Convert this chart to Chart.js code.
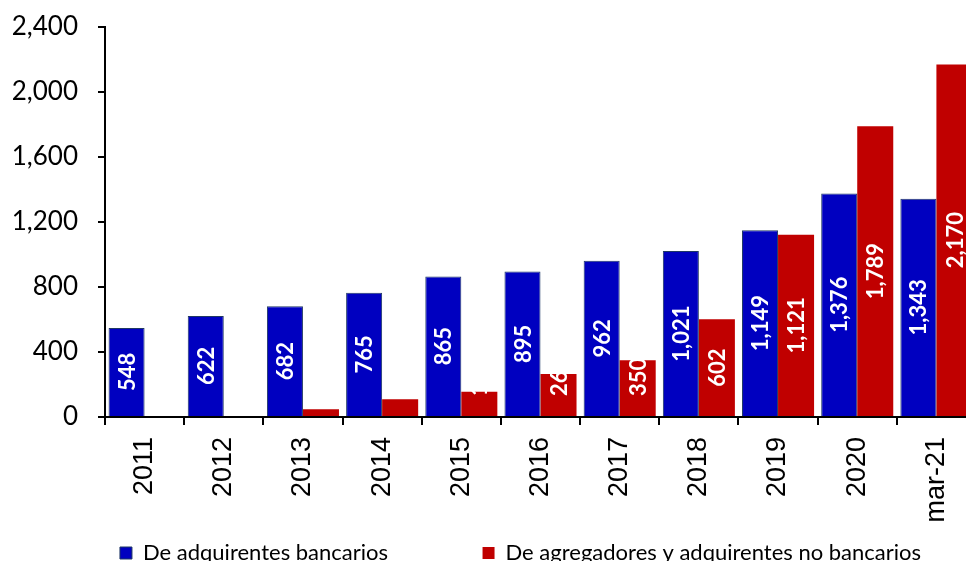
<!DOCTYPE html>
<html>
<head>
<meta charset="utf-8">
<script src="https://cdn.jsdelivr.net/npm/chart.js@4/dist/chart.umd.min.js"></script>
<style>
  html, body { margin: 0; padding: 0; background: #fff; overflow: hidden; }
  #wrap { width: 1041px; height: 561px; }
</style>
</head>
<body>
<div id="wrap"><canvas id="chart"></canvas></div>
<script>
// --- Data ---
const years = ['2011', '2012', '2013', '2014', '2015', '2016', '2017', '2018', '2019', '2020', 'mar-21'];
const bancarios = [548, 622, 682, 765, 865, 895, 962, 1021, 1149, 1376, 1343];
const noBancarios = [0, 0, 48, 109, 155, 264, 350, 602, 1121, 1789, 2170];
const yTicks = [0, 400, 800, 1200, 1600, 2000, 2400];

const fmt = v => v.toLocaleString('en-US');
const legendFont = { family: 'Lato', size: 22 };

// White rotated value labels inside the bars
const barLabels = {
    id: 'barLabels',
    afterDatasetsDraw(chart) {
        const ctx = chart.ctx;
        const area = chart.chartArea;
        ctx.save();
        ctx.beginPath();
        ctx.rect(area.left, area.top, area.right - area.left, area.bottom - area.top);
        ctx.clip();
        ctx.font = 'bold 22px Lato';
        ctx.fillStyle = '#ffffff';
        ctx.textAlign = 'center';
        ctx.textBaseline = 'middle';
        chart.data.datasets.forEach((ds, i) => {
            const meta = chart.getDatasetMeta(i);
            meta.data.forEach((bar, j) => {
                const v = ds.data[j];
                if (!v) return;
                const txt = fmt(v);
                const w = ctx.measureText(txt).width;
                // keep label clear of the axis like the original
                const cy = Math.min((bar.y + bar.base) / 2, bar.base - 20 - w / 2);
                ctx.save();
                ctx.translate(bar.x, cy);
                ctx.rotate(-Math.PI / 2);
                ctx.fillText(txt, 0, 1);
                ctx.restore();
            });
        });
        ctx.restore();
    }
};

new Chart(document.getElementById('chart'), {
    type: 'bar',
    data: {
        labels: years,
        datasets: [
            {
                label: 'De adquirentes bancarios',
                data: bancarios,
                backgroundColor: '#0000C0',
                borderColor: '#1F3864',
                borderWidth: 1,
                borderSkipped: 'bottom',
                categoryPercentage: 0.91,
                barPercentage: 1
            },
            {
                label: 'De agregadores y adquirentes no bancarios',
                data: noBancarios,
                backgroundColor: '#C00000',
                borderColor: '#C00000',
                borderWidth: 0,
                categoryPercentage: 0.91,
                barPercentage: 1
            }
        ]
    },
    options: {
        responsive: true,
        maintainAspectRatio: false,
        animation: false,
        layout: { padding: { top: 27, right: 0, left: 0, bottom: -13 } },
        plugins: {
            tooltip: { enabled: false },
            legend: {
                position: 'bottom',
                labels: {
                    boxWidth: 12,
                    boxHeight: 12,
                    padding: 10,
                    color: '#000',
                    font: legendFont,
                    generateLabels(chart) {
                        const items = Chart.defaults.plugins.legend.labels.generateLabels(chart);
                        // widen the first entry so the second one sits where it does in the original
                        const ctx = chart.ctx;
                        ctx.save();
                        ctx.font = legendFont.size + 'px ' + legendFont.family;
                        const target = 327;
                        const sp = ctx.measureText('\u00a0').width;
                        const n = Math.max(0, Math.round((target - ctx.measureText(items[0].text).width) / sp));
                        ctx.restore();
                        items[0].text = items[0].text + '\u00a0'.repeat(n);
                        return items;
                    }
                }
            }
        },
        scales: {
            x: {
                grid: {
                    offset: true,
                    drawOnChartArea: false,
                    drawTicks: true,
                    tickLength: 8,
                    color: '#000',
                    lineWidth: 2
                },
                border: { display: true, color: '#000', width: 2 },
                ticks: {
                    color: '#000',
                    font: { family: 'Liberation Sans', size: 27 },
                    minRotation: 90,
                    maxRotation: 90,
                    padding: 12,
                    autoSkip: false
                },
                afterFit(scale) {
                    scale.height = 115;
                    scale.paddingLeft = 0;
                    scale.paddingRight = 0;
                }
            },
            y: {
                min: 0,
                max: 2400,
                afterBuildTicks(scale) { scale.ticks = yTicks.map(v => ({ value: v })); },
                grid: {
                    drawOnChartArea: false,
                    drawTicks: true,
                    tickLength: 7,
                    color: '#000',
                    lineWidth: 2
                },
                border: { display: true, color: '#000', width: 2 },
                ticks: {
                    color: '#000',
                    font: { family: 'Lato', size: 26 },
                    padding: 20,
                    callback: v => fmt(v)
                },
                afterFit(scale) {
                    scale.width = 105;
                    scale.paddingTop = 0;
                    scale.paddingBottom = 0;
                }
            },
            // empty right-hand spacer so the legend is centred as in the original
            spacer: {
                type: 'linear',
                position: 'right',
                display: true,
                min: 0,
                max: 1,
                grid: { display: false },
                border: { display: false },
                ticks: { display: false },
                afterFit(scale) {
                    scale.width = 65;
                    scale.paddingTop = 0;
                    scale.paddingBottom = 0;
                }
            }
        }
    },
    plugins: [barLabels]
});
</script>
</body>
</html>
